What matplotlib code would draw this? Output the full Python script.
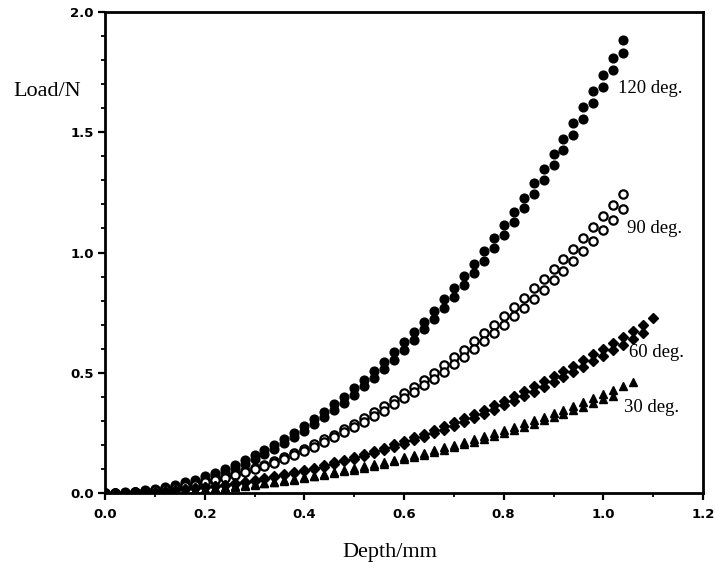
import matplotlib
matplotlib.use("Agg")
import matplotlib.pyplot as plt
from matplotlib.ticker import MultipleLocator, FormatStrFormatter

# ---- data ----
depth = [0.00, 0.02, 0.04, 0.06, 0.08, 0.10, 0.12, 0.14, 0.16, 0.18,
         0.20, 0.22, 0.24, 0.26, 0.28, 0.30, 0.32, 0.34, 0.36, 0.38,
         0.40, 0.42, 0.44, 0.46, 0.48, 0.50, 0.52, 0.54, 0.56, 0.58,
         0.60, 0.62, 0.64, 0.66, 0.68, 0.70, 0.72, 0.74, 0.76, 0.78,
         0.80, 0.82, 0.84, 0.86, 0.88, 0.90, 0.92, 0.94, 0.96, 0.98,
         1.00, 1.02, 1.04, 1.06, 1.08, 1.10]

load_120a = [0.000, 0.001, 0.003, 0.006, 0.011, 0.017, 0.025, 0.034, 0.045, 0.056,
             0.070, 0.084, 0.100, 0.118, 0.136, 0.157, 0.178, 0.201, 0.226, 0.251,
             0.278, 0.307, 0.337, 0.368, 0.401, 0.435, 0.470, 0.507, 0.546, 0.585,
             0.626, 0.669, 0.713, 0.758, 0.805, 0.853, 0.902, 0.953, 1.005, 1.059,
             1.114, 1.170, 1.228, 1.287, 1.347, 1.409, 1.473, 1.537, 1.604, 1.671,
             1.740, 1.810, 1.882]
load_120b = [0.000, 0.000, 0.001, 0.004, 0.007, 0.013, 0.019, 0.027, 0.037, 0.047,
             0.060, 0.073, 0.088, 0.104, 0.122, 0.141, 0.162, 0.184, 0.207, 0.232,
             0.258, 0.285, 0.314, 0.345, 0.376, 0.409, 0.444, 0.480, 0.517, 0.555,
             0.595, 0.637, 0.680, 0.724, 0.769, 0.816, 0.865, 0.915, 0.966, 1.018,
             1.072, 1.128, 1.184, 1.242, 1.302, 1.363, 1.425, 1.489, 1.554, 1.620,
             1.688, 1.757, 1.828]

load_90a = [0.000, 0.001, 0.002, 0.004, 0.007, 0.012, 0.017, 0.023, 0.029, 0.037,
            0.046, 0.056, 0.066, 0.078, 0.090, 0.104, 0.118, 0.133, 0.149, 0.166,
            0.184, 0.203, 0.223, 0.243, 0.265, 0.288, 0.311, 0.335, 0.361, 0.387,
            0.414, 0.442, 0.471, 0.501, 0.532, 0.564, 0.596, 0.630, 0.664, 0.700,
            0.736, 0.773, 0.811, 0.851, 0.891, 0.932, 0.973, 1.016, 1.060, 1.105,
            1.150, 1.197, 1.244]
load_90b = [0.000, 0.001, 0.002, 0.004, 0.007, 0.011, 0.016, 0.021, 0.028, 0.035,
            0.044, 0.053, 0.063, 0.074, 0.086, 0.098, 0.112, 0.126, 0.142, 0.158,
            0.175, 0.193, 0.212, 0.231, 0.252, 0.273, 0.296, 0.319, 0.343, 0.368,
            0.393, 0.420, 0.448, 0.476, 0.505, 0.535, 0.566, 0.598, 0.631, 0.665,
            0.699, 0.735, 0.771, 0.808, 0.846, 0.885, 0.925, 0.965, 1.007, 1.049,
            1.093, 1.137, 1.182]

load_60a = [0.000, 0.000, 0.001, 0.002, 0.004, 0.006, 0.009, 0.012, 0.015, 0.019,
            0.024, 0.029, 0.035, 0.041, 0.047, 0.054, 0.061, 0.069, 0.078, 0.087,
            0.096, 0.106, 0.116, 0.127, 0.138, 0.150, 0.162, 0.175, 0.188, 0.202,
            0.216, 0.231, 0.246, 0.261, 0.277, 0.294, 0.311, 0.329, 0.347, 0.365,
            0.384, 0.403, 0.423, 0.444, 0.465, 0.486, 0.508, 0.530, 0.553, 0.576,
            0.600, 0.624, 0.649, 0.674, 0.700, 0.726]
load_60b = [0.000, 0.000, 0.001, 0.002, 0.004, 0.006, 0.008, 0.011, 0.015, 0.019,
            0.023, 0.028, 0.033, 0.039, 0.045, 0.051, 0.058, 0.066, 0.074, 0.082,
            0.091, 0.101, 0.110, 0.121, 0.131, 0.143, 0.154, 0.166, 0.179, 0.192,
            0.205, 0.219, 0.234, 0.248, 0.264, 0.279, 0.296, 0.312, 0.329, 0.347,
            0.365, 0.383, 0.402, 0.422, 0.441, 0.462, 0.482, 0.504, 0.525, 0.547,
            0.570, 0.593, 0.617, 0.641, 0.665]

load_30a = [0.000, 0.000, 0.001, 0.002, 0.003, 0.004, 0.006, 0.008, 0.011, 0.013,
            0.016, 0.020, 0.024, 0.028, 0.032, 0.037, 0.042, 0.047, 0.053, 0.059,
            0.066, 0.072, 0.079, 0.087, 0.095, 0.103, 0.111, 0.120, 0.129, 0.138,
            0.148, 0.158, 0.168, 0.179, 0.190, 0.201, 0.213, 0.225, 0.237, 0.249,
            0.262, 0.276, 0.289, 0.303, 0.318, 0.332, 0.347, 0.362, 0.378, 0.394,
            0.410, 0.427, 0.444, 0.461]
load_30b = [0.000, 0.000, 0.001, 0.001, 0.003, 0.004, 0.006, 0.008, 0.010, 0.013,
            0.016, 0.019, 0.022, 0.026, 0.031, 0.035, 0.040, 0.045, 0.050, 0.056,
            0.062, 0.069, 0.075, 0.083, 0.090, 0.097, 0.105, 0.114, 0.122, 0.131,
            0.140, 0.150, 0.160, 0.170, 0.180, 0.191, 0.202, 0.213, 0.225, 0.237,
            0.249, 0.262, 0.275, 0.288, 0.302, 0.316, 0.330, 0.344, 0.359, 0.374,
            0.390, 0.405]

labels = ["120 deg.", "90 deg.", "60 deg.", "30 deg."]
label_pos = [(1.030, 1.68), (1.048, 1.10), (1.052, 0.583), (1.042, 0.354)]

x_ticks = [0.0, 0.2, 0.4, 0.6, 0.8, 1.0, 1.2]
y_ticks = [0.0, 0.5, 1.0, 1.5, 2.0]

# ---- figure ----
W, H = 716, 569
fig = plt.figure(figsize=(W / 100, H / 100), dpi=100)
ax = fig.add_axes([105 / W, 1 - 493 / H, 598 / W, 481 / H])

ax.plot(depth[:len(load_120a)], load_120a, 'o', color='black', ms=6.3)
ax.plot(depth[:len(load_120b)], load_120b, 'o', color='black', ms=6.3)
ax.plot(depth[:len(load_90a)], load_90a, 'o', mfc='white', mec='black', mew=1.6, ms=6.0)
ax.plot(depth[:len(load_90b)], load_90b, 'o', mfc='white', mec='black', mew=1.6, ms=6.0)
ax.plot(depth[:len(load_60a)], load_60a, 'D', color='black', ms=5.2)
ax.plot(depth[:len(load_60b)], load_60b, 'D', color='black', ms=5.2)
ax.plot(depth[:len(load_30a)], load_30a, '^', color='black', ms=6.2)
ax.plot(depth[:len(load_30b)], load_30b, '^', color='black', ms=6.2)

for txt, (x, y) in zip(labels, label_pos):
    ax.text(x, y, txt, ha='left', va='center', fontsize=13.5,
            family='Liberation Serif', color='black')

ax.set_xlim(0, 1.2)
ax.set_ylim(0, 2.0)
ax.set_xticks(x_ticks)
ax.set_yticks(y_ticks)
ax.xaxis.set_minor_locator(MultipleLocator(0.1))
ax.yaxis.set_minor_locator(MultipleLocator(0.1))
ax.xaxis.set_major_formatter(FormatStrFormatter('%.1f'))
ax.yaxis.set_major_formatter(FormatStrFormatter('%.1f'))
for s in ax.spines.values():
    s.set_linewidth(2.0)
ax.tick_params(axis='both', which='major', direction='out', length=5, width=1.6,
               labelsize=9.5)
ax.tick_params(axis='x', which='major', pad=6)
ax.tick_params(axis='y', which='major', pad=3)
ax.tick_params(axis='both', which='minor', direction='out', length=3, width=1.3)
for lab in ax.get_xticklabels() + ax.get_yticklabels():
    lab.set_fontweight('bold')

fig.text(13 / W, 1 - 91 / H, "Load/N", ha='left', va='center', fontsize=16,
         family='Liberation Serif')
fig.text(390 / W, 1 - 553 / H, "Depth/mm", ha='center', va='center', fontsize=16,
         family='Liberation Serif')

fig.savefig("out.png", dpi=100)
